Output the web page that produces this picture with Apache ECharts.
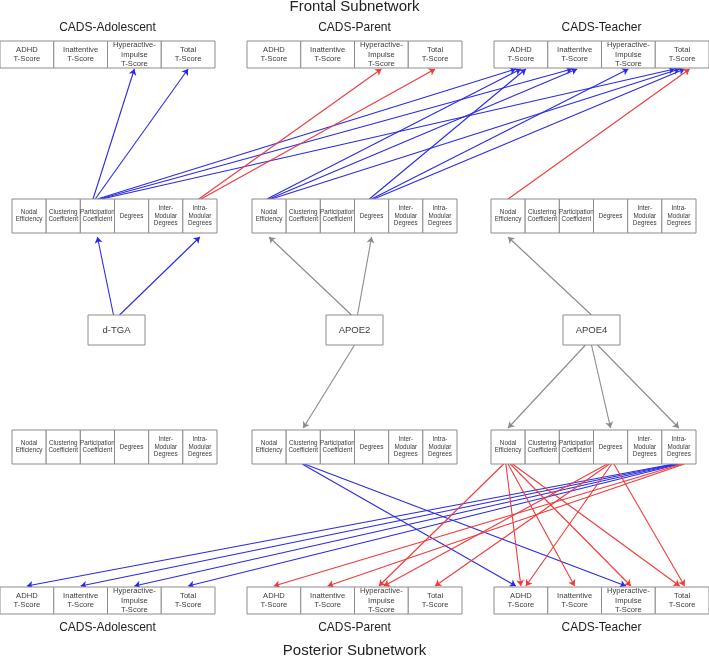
<!DOCTYPE html>
<html><head><meta charset="utf-8">
<script src="https://cdn.jsdelivr.net/npm/echarts@6/dist/echarts.min.js"></script>
<style>html,body{margin:0;padding:0;background:#fff}#c{width:709px;height:658px}</style>
</head><body><div id="c"></div>
<script>
// ---- content ----
const cadsCells = ['ADHD\nT-Score','Inattentive\nT-Score','Hyperactive-\nImpulse\nT-Score','Total\nT-Score'];
const metricCells = ['Nodal\nEfficiency','Clustering\nCoefficient','Participation\nCoefficient','Degrees','Inter-\nModular\nDegrees','Intra-\nModular\nDegrees'];
const scales = ['CADS-Adolescent','CADS-Parent','CADS-Teacher'];
const genes = ['d-TGA','APOE2','APOE4'];
const subnetworks = ['Frontal Subnetwork','Posterior Subnetwork'];
// edges: [source node, source cell, target node, target cell, colour kind]
// nodes: fc = frontal CADS, fm = frontal metrics, g = genes, pm = posterior metrics, pc = posterior CADS
const geneEdges = [
  ['g0',0,'fm0',2,'blue'], ['g0',0,'fm0',5,'blue'],
  ['g1',0,'fm1',0,'gray'], ['g1',0,'fm1',3,'gray'], ['g1',0,'pm1',1,'gray'],
  ['g2',0,'fm2',0,'gray'], ['g2',0,'pm2',0,'gray'], ['g2',0,'pm2',3,'gray'], ['g2',0,'pm2',5,'gray']
];
const frontalEdges = [
  ['fm0',2,'fc0',2,'blue'], ['fm0',2,'fc0',3,'blue'],
  ['fm0',2,'fc2',0,'blue'], ['fm0',2,'fc2',1,'blue'], ['fm0',2,'fc2',3,'blue'],
  ['fm0',5,'fc1',2,'red'], ['fm0',5,'fc1',3,'red'],
  ['fm1',0,'fc2',0,'blue'], ['fm1',0,'fc2',1,'blue'], ['fm1',0,'fc2',3,'blue'],
  ['fm1',3,'fc2',0,'blue'], ['fm1',3,'fc2',2,'blue'], ['fm1',3,'fc2',3,'blue'],
  ['fm2',0,'fc2',3,'red']
];
const posteriorEdges = [
  ['pm1',1,'pc2',0,'blue'], ['pm1',1,'pc2',2,'blue'],
  ['pm2',5,'pc0',0,'blue'], ['pm2',5,'pc0',1,'blue'], ['pm2',5,'pc0',2,'blue'], ['pm2',5,'pc0',3,'blue'],
  ['pm2',5,'pc1',0,'red'], ['pm2',5,'pc1',1,'red'],
  ['pm2',0,'pc1',2,'red'], ['pm2',0,'pc2',0,'red'], ['pm2',0,'pc2',1,'red'], ['pm2',0,'pc2',2,'red'], ['pm2',0,'pc2',3,'red'],
  ['pm2',3,'pc1',2,'red'], ['pm2',3,'pc1',3,'red'],
  ['pm2',3,'pc2',0,'red'], ['pm2',3,'pc2',3,'red']
];

// ---- layout ----
const W = 709, H = 658;
const colX = { cads: [0, 247, 494], metric: [12, 252, 491], gene: [116.5, 354.5, 591.5] };
const cadsW = 215, metricW = 205, geneW = 57;
const rowY = { fc: [41, 68], fm: [199, 233], g: [315, 345], pm: [430, 464], pc: [587, 614] };
const colors = { blue: '#2a2ae6', red: '#f03a3a', gray: '#8a8a8a' };

function node(id) {
  const t = id.slice(0, id.length - 1), i = +id[id.length - 1];
  if (t === 'fc' || t === 'pc') return { t, i, x0: colX.cads[i], w: cadsW, n: cadsCells.length, y: rowY[t] };
  if (t === 'fm' || t === 'pm') return { t, i, x0: colX.metric[i], w: metricW, n: metricCells.length, y: rowY[t] };
  return { t, i, x0: colX.gene[i] - geneW / 2, w: geneW, n: 1, y: rowY.g };
}
function cellCenter(nd, c) { const cw = nd.w / nd.n; return nd.x0 + cw * (c + 0.5); }

// ---- boxes ----
const cellData = [];
['fc', 'pc'].forEach(t => [0, 1, 2].forEach(i => cadsCells.forEach((lab, c) => {
  const nd = node(t + i); const cw = nd.w / nd.n;
  cellData.push({ value: [nd.x0 + cw * c, nd.y[0], cw, nd.y[1] - nd.y[0]], label: lab, fs: 7.6, lh: 9.3 });
})));
['fm', 'pm'].forEach(t => [0, 1, 2].forEach(i => metricCells.forEach((lab, c) => {
  const nd = node(t + i); const cw = nd.w / nd.n;
  cellData.push({ value: [nd.x0 + cw * c, nd.y[0], cw, nd.y[1] - nd.y[0]], label: lab, fs: 6.3, lh: 7.4 });
})));
genes.forEach((g, i) => {
  const nd = node('g' + i);
  cellData.push({ value: [nd.x0, nd.y[0], nd.w, nd.y[1] - nd.y[0]], label: g, fs: 9.5, lh: 11 });
});

// ---- titles ----
const titleData = [];
scales.forEach((s, i) => {
  titleData.push({ value: [colX.cads[i] + cadsW / 2, 28], label: s, fs: 12 });
  titleData.push({ value: [colX.cads[i] + cadsW / 2, 628], label: s, fs: 12 });
});
titleData.push({ value: [354.5, 7], label: subnetworks[0], fs: 15 });
titleData.push({ value: [354.5, 651], label: subnetworks[1], fs: 15 });

// ---- edges ----
const allEdges = geneEdges.concat(frontalEdges, posteriorEdges);
function buildLines() {
  const recs = allEdges.map(e => {
    const s = node(e[0]), d = node(e[2]);
    const up = d.y[0] < s.y[0];
    return { e, s, d, up, sx: cellCenter(s, e[1]), dx: cellCenter(d, e[3]),
      sy: up ? s.y[0] : s.y[1], dy: up ? d.y[1] + (d.t === 'fm' ? 4 : 1) : d.y[0] - (d.t === 'pm' ? 2 : 1) };
  });
  const sg = {};
  recs.forEach(r => { const k = r.e[0] + '_' + r.e[1] + '_' + r.up; (sg[k] = sg[k] || []).push(r); });
  Object.values(sg).forEach(arr => {
    arr.sort((a, b) => a.dx - b.dx);
    const step = arr[0].s.t === 'g' ? 6 : 2.2;
    arr.forEach((r, k) => { r.sx2 = r.sx + (k - (arr.length - 1) / 2) * step; });
  });
  const tg = {};
  recs.forEach(r => { const k = r.e[2] + '_' + r.e[3]; (tg[k] = tg[k] || []).push(r); });
  Object.values(tg).forEach(arr => {
    arr.sort((a, b) => a.sx2 - b.sx2);
    arr.forEach((r, k) => { r.dx2 = r.dx + (k - (arr.length - 1) / 2) * 5; });
  });
  return recs.map(r => ({ coords: [[r.sx2, r.sy], [r.dx2, r.dy]], lineStyle: { color: colors[r.e[4]] } }));
}

const chart = echarts.init(document.getElementById('c'), null, { renderer: 'canvas' });
const FONT = 'Liberation Sans, Arial, sans-serif';
chart.setOption({
  animation: false,
  grid: { left: 0, right: 0, top: 0, bottom: 0 },
  xAxis: { type: 'value', min: 0, max: W, show: false },
  yAxis: { type: 'value', min: 0, max: H, inverse: true, show: false },
  series: [
    {
      type: 'lines', coordinateSystem: 'cartesian2d', z: 1,
      symbol: ['none', 'arrow'], symbolSize: 6,
      lineStyle: { width: 1.1, opacity: 1 },
      data: buildLines()
    },
    {
      type: 'custom', z: 2,
      data: cellData,
      renderItem: function (params, api) {
        const it = cellData[params.dataIndex];
        const p0 = api.coord([api.value(0), api.value(1)]);
        const p1 = api.coord([api.value(0) + api.value(2), api.value(1) + api.value(3)]);
        return {
          type: 'group', children: [
            { type: 'rect', shape: { x: p0[0], y: p0[1], width: p1[0] - p0[0], height: p1[1] - p0[1] },
              style: { fill: '#fff', stroke: '#8c8c8c', lineWidth: 1 } },
            { type: 'text', style: { text: it.label, x: (p0[0] + p1[0]) / 2, y: (p0[1] + p1[1]) / 2,
              align: 'center', verticalAlign: 'middle', fontSize: it.fs, lineHeight: it.lh,
              fontFamily: FONT, fill: '#3a3a3a' } }
          ]
        };
      }
    },
    {
      type: 'custom', z: 3,
      data: titleData,
      renderItem: function (params, api) {
        const it = titleData[params.dataIndex];
        const p = api.coord([api.value(0), api.value(1)]);
        return { type: 'text', style: { text: it.label, x: p[0], y: p[1], align: 'center', verticalAlign: 'middle',
          fontSize: it.fs, fontFamily: FONT, fill: '#222' } };
      }
    }
  ]
});
</script></body></html>
